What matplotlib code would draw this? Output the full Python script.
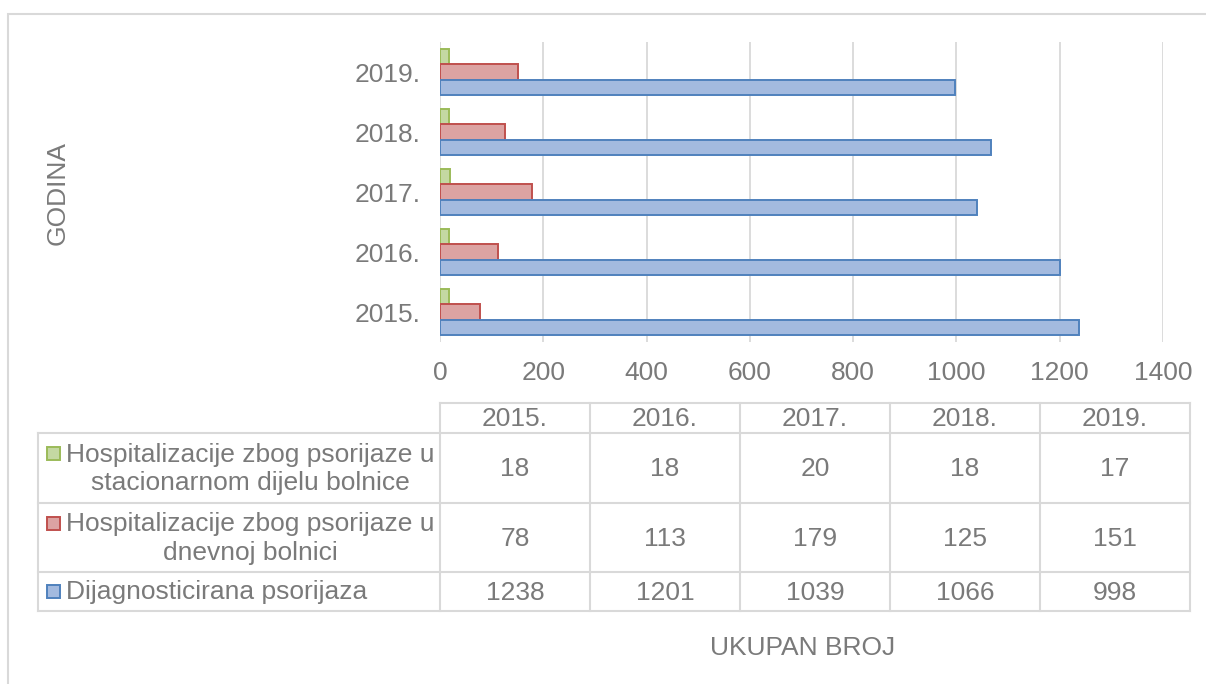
import matplotlib
matplotlib.use("Agg")
import matplotlib.pyplot as plt
from matplotlib.patches import Rectangle
import numpy as np

plt.rcParams['font.family'] = ['Liberation Sans', 'DejaVu Sans']

# data
years = ["2015.", "2016.", "2017.", "2018.", "2019."]
stacionarno = [18, 18, 20, 18, 17]
dnevna = [78, 113, 179, 125, 151]
dijagnoza = [1238, 1201, 1039, 1066, 998]

seriesNames = ["Hospitalizacije zbog psorijaze u\nstacionarnom dijelu bolnice",
               "Hospitalizacije zbog psorijaze u\ndnevnoj bolnici",
               "Dijagnosticirana psorijaza"]
seriesValues = [stacionarno, dnevna, dijagnoza]
fills = ["#c4d8a2", "#dca3a2", "#a3badf"]
edges = ["#9bbb59", "#c0504d", "#4f81bd"]

textGray = "#7a7a7a"
lineGray = "#d9d9d9"
fs = 19

W, H = 1206, 684
fig = plt.figure(figsize=(W / 100, H / 100), dpi=100)

def fx(px):
    return px / W

def fy(py):
    return 1 - py / H

# outer chart border
fig.patches.append(Rectangle((fx(8), fy(700)), fx(1300), 686 / H, transform=fig.transFigure,
                             fill=False, edgecolor=lineGray, linewidth=1.5))

# plot area
axLeft, axTop, axW, axH = 440, 42, 723, 300
ax = fig.add_axes([fx(axLeft), fy(axTop + axH), fx(axW), axH / H])

pos = np.arange(len(years))
barH = 0.26
offsets = [0.255, 0, -0.255]
for vals, off, fc, ec in zip(seriesValues, offsets, fills, edges):
    ax.barh(pos + off, vals, height=barH, color=fc, edgecolor=ec, linewidth=1.4, zorder=3)

ax.set_xlim(0, 1400)
ax.set_ylim(-0.5, len(years) - 0.5)
ax.set_xticks(np.arange(0, 1401, 200))
ax.set_yticks(pos)
ax.set_yticklabels(years)
ax.tick_params(axis='both', length=0, labelsize=fs, labelcolor=textGray)
ax.tick_params(axis='y', pad=14)
ax.tick_params(axis='x', pad=14)
ax.grid(axis='x', color=lineGray, linewidth=1.3, zorder=0)
for s in ax.spines.values():
    s.set_visible(False)

fig.text(fx(58), fy(193), "GODINA", rotation=90, ha='center', va='center',
         fontsize=fs, color=textGray)
fig.text(fx(803), fy(648), "UKUPAN BROJ", ha='center', va='center',
         fontsize=fs, color=textGray)

# data table under the chart
colEdges = [440, 590, 740, 890, 1040, 1190]
rowEdges = [403, 433, 503, 572, 611]
labelLeft = 38

def hline(x0, x1, y):
    fig.add_artist(plt.Line2D([fx(x0), fx(x1)], [fy(y), fy(y)], transform=fig.transFigure,
                              color=lineGray, linewidth=1.5))

def vline(x, y0, y1):
    fig.add_artist(plt.Line2D([fx(x), fx(x)], [fy(y0), fy(y1)], transform=fig.transFigure,
                              color=lineGray, linewidth=1.5))

hline(colEdges[0], colEdges[-1], rowEdges[0])
for y in rowEdges[1:]:
    hline(labelLeft, colEdges[-1], y)
for x in colEdges:
    vline(x, rowEdges[0], rowEdges[-1])
vline(labelLeft, rowEdges[1], rowEdges[-1])

for i, yr in enumerate(years):
    cx = (colEdges[i] + colEdges[i + 1]) / 2
    fig.text(fx(cx), fy((rowEdges[0] + rowEdges[1]) / 2 + 1), yr, ha='center', va='center',
             fontsize=fs, color=textGray)

for r, (name, vals, fc, ec) in enumerate(zip(seriesNames, seriesValues, fills, edges)):
    cy = (rowEdges[r + 1] + rowEdges[r + 2]) / 2
    nLines = name.count("\n") + 1
    firstY = cy - (nLines - 1) * 14.5
    fig.patches.append(Rectangle((fx(47), fy(firstY + 6.5)), fx(13), 13 / H,
                                 transform=fig.transFigure, facecolor=fc, edgecolor=ec,
                                 linewidth=1.4))
    fig.text(fx(66), fy(cy + 1), name, ha='left', va='center', multialignment='center',
             fontsize=fs, color=textGray, linespacing=1.22)
    for i, v in enumerate(vals):
        cx = (colEdges[i] + colEdges[i + 1]) / 2
        fig.text(fx(cx), fy(cy + 1), str(v), ha='center', va='center', fontsize=fs, color=textGray)

fig.savefig("out.png", dpi=100)
